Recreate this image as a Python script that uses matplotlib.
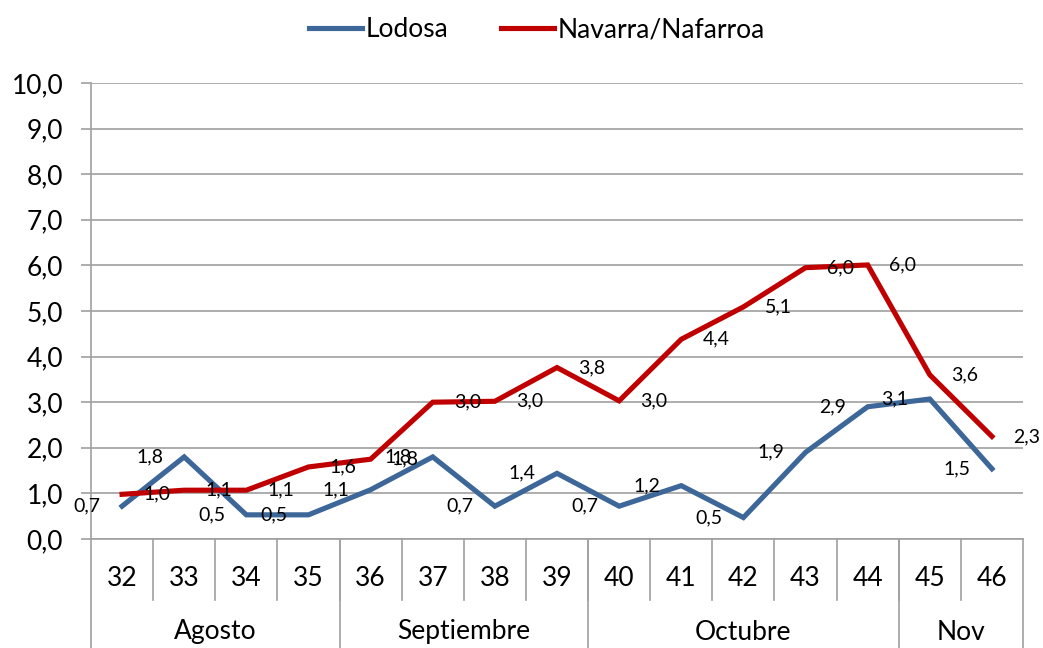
import matplotlib
matplotlib.use('Agg')
import matplotlib.pyplot as plt
import matplotlib.transforms as mtransforms

plt.rcParams['font.family'] = ['Lato', 'DejaVu Sans']

semanas = ['32', '33', '34', '35', '36', '37', '38', '39', '40', '41', '42', '43', '44', '45', '46']
meses = ['Agosto', 'Septiembre', 'Octubre', 'Nov']
semanas_por_mes = [4, 4, 5, 2]

lodosa = [0.72, 1.8, 0.53, 0.53, 1.08, 1.8, 0.72, 1.44, 0.72, 1.17, 0.47, 1.9, 2.9, 3.07, 1.54]
navarra = [0.98, 1.07, 1.07, 1.58, 1.75, 3.0, 3.02, 3.76, 3.03, 4.38, 5.09, 5.95, 6.01, 3.6, 2.25]
lodosa_txt = ['0,7', '1,8', '0,5', '0,5', '1,1', '1,8', '0,7', '1,4', '0,7', '1,2', '0,5', '1,9', '2,9', '3,1', '1,5']
navarra_txt = ['1,0', '1,1', '1,1', '1,6', '1,8', '3,0', '3,0', '3,8', '3,0', '4,4', '5,1', '6,0', '6,0', '3,6', '2,3']

azul = '#3D6699'
rojo = '#C00000'
gris = '#A0A0A0'

fig = plt.figure(figsize=(10.43, 6.48), dpi=100)
ax = fig.add_axes([91/1043, 109/648, 932/1043, 456/648])

x = list(range(len(semanas)))
ax.plot(x, lodosa, color=azul, linewidth=3.7, label='Lodosa', solid_joinstyle='miter')
ax.plot(x, navarra, color=rojo, linewidth=3.7, label='Navarra/Nafarroa', solid_joinstyle='miter')

for i in x:
    ax.annotate(lodosa_txt[i], (i, lodosa[i]), xytext=(-25, 0), textcoords='offset points',
                ha='center', va='center', fontsize=14)
    ax.annotate(navarra_txt[i], (i, navarra[i]), xytext=(25, 0), textcoords='offset points',
                ha='center', va='center', fontsize=14, annotation_clip=False)

ax.set_xlim(-0.5, len(semanas) - 0.5)
ax.set_ylim(0, 10)
ax.set_yticks(range(0, 11))
ax.set_yticklabels(['%d,0' % v for v in range(0, 11)], fontsize=19)
ax.yaxis.grid(True, color=gris, linewidth=1.2)
ax.set_axisbelow(True)
ax.set_xticks([])
ax.tick_params(axis='y', length=7, width=1.2, color=gris, pad=13)
for s in ['top', 'right']:
    ax.spines[s].set_visible(False)
for s in ['left', 'bottom']:
    ax.spines[s].set_color(gris)
    ax.spines[s].set_linewidth(1.2)

# eje de categorias de dos niveles
tr = mtransforms.blended_transform_factory(ax.transData, ax.transAxes)
fila1 = -61/456
fila2 = -109/456
for i in range(1, len(semanas)):
    ax.plot([i - 0.5, i - 0.5], [0, fila1], transform=tr, color=gris, linewidth=1.2, clip_on=False)
for i in x:
    ax.text(i, -39/456, semanas[i], transform=tr, ha='center', va='center', fontsize=19)

inicio = 0
bordes = [-0.5]
for mes, n in zip(meses, semanas_por_mes):
    centro = inicio + (n - 1) / 2
    ax.text(centro, -93/456, mes, transform=tr, ha='center', va='center', fontsize=19)
    inicio += n
    bordes.append(inicio - 0.5)
for b in bordes:
    ax.plot([b, b], [0, fila2], transform=tr, color=gris, linewidth=1.2, clip_on=False)

fig.legend(loc='upper center', bbox_to_anchor=(0.515, 1.01), ncol=2, frameon=False,
           fontsize=19, handlelength=2.0, columnspacing=2.0, handletextpad=0.15)

fig.savefig('out.png', dpi=100)
